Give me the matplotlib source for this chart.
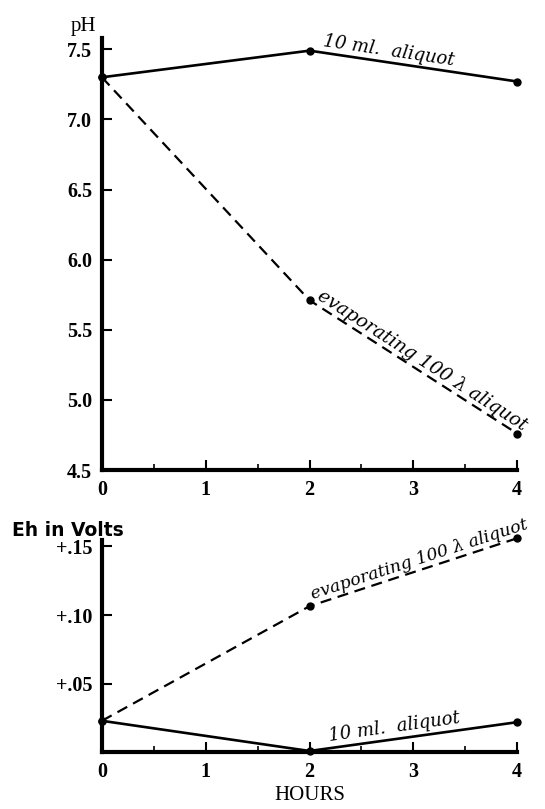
import numpy as np
import matplotlib
matplotlib.use('Agg')
import matplotlib.pyplot as plt

# Daten
hours = [0, 2, 4]
ph_10ml = [7.30, 7.49, 7.27]
ph_evap = [7.30, 5.71, 4.76]
eh_10ml = [0.023, 0.001, 0.022]
eh_evap = [0.023, 0.1065, 0.156]

ph_ticks = [4.5, 5.0, 5.5, 6.0, 6.5, 7.0, 7.5]
ph_labels = ['4.5', '5.0', '5.5', '6.0', '6.5', '7.0', '7.5']
eh_ticks = [0.05, 0.10, 0.15]
eh_labels = ['+.05', '+.10', '+.15']
hour_ticks = [0, 1, 2, 3, 4]

label_10ml = '10 ml.  aliquot'
label_evap = 'evaporating 100 \u03bb aliquot'

serif = ['Liberation Serif', 'DejaVu Serif']
plt.rcParams['font.family'] = serif

fig = plt.figure(figsize=(5.45, 8.09), dpi=100)
ax1 = fig.add_axes([0.187, 0.419, 0.762, 0.534])
ax2 = fig.add_axes([0.187, 0.070, 0.762, 0.263])


def style_axis(ax):
    for side in ['top', 'right']:
        ax.spines[side].set_visible(False)
    for side in ['left', 'bottom']:
        ax.spines[side].set_linewidth(3)
    ax.set_xlim(0, 4)
    ax.set_xticks(hour_ticks)
    ax.set_xticks([0.5, 1.5, 2.5, 3.5], minor=True)
    ax.tick_params(axis='both', which='major', direction='in', length=7, width=1.5,
                   labelsize=14.5, pad=7)
    ax.tick_params(axis='x', which='minor', direction='in', length=4, width=1.2)
    ax.tick_params(axis='y', which='minor', left=False)
    for lab in ax.get_xticklabels() + ax.get_yticklabels():
        lab.set_fontweight('bold')


def line_label(ax, xs, ys, i, frac, text, size, dy=2):
    # Text entlang des Segments i -> i+1
    x0, x1 = xs[i], xs[i + 1]
    y0, y1 = ys[i], ys[i + 1]
    x = x0 + frac * (x1 - x0)
    y = y0 + frac * (y1 - y0)
    p0 = ax.transData.transform((x0, y0))
    p1 = ax.transData.transform((x1, y1))
    ang = np.degrees(np.arctan2(p1[1] - p0[1], p1[0] - p0[0]))
    ax.annotate(text, (x, y), xytext=(0, dy), textcoords='offset points',
                rotation=ang, rotation_mode='anchor', ha='left', va='bottom',
                fontsize=size, style='italic', family=['DejaVu Serif'],
                annotation_clip=False)


# Oben: pH
ax1.plot(hours, ph_10ml, color='black', lw=1.9, marker='o', ms=5, clip_on=False)
ax1.plot(hours, ph_evap, color='black', lw=1.6, ls=(0, (5, 3)), marker='o', ms=5,
         clip_on=False)
ax1.set_ylim(4.5, 7.58)
ax1.set_yticks(ph_ticks)
ax1.set_yticklabels(ph_labels)
style_axis(ax1)
line_label(ax1, hours, ph_10ml, 1, 0.06, label_10ml, 13)
line_label(ax1, hours, ph_evap, 1, 0.02, label_evap, 13.5, dy=1)

# Unten: Eh
ax2.plot(hours, eh_10ml, color='black', lw=1.9, marker='o', ms=5, clip_on=False)
ax2.plot(hours, eh_evap, color='black', lw=1.6, ls=(0, (5, 3)), marker='o', ms=5,
         clip_on=False)
ax2.set_ylim(0, 0.155)
ax2.set_yticks(eh_ticks)
ax2.set_yticklabels(eh_labels)
style_axis(ax2)
line_label(ax2, hours, eh_10ml, 1, 0.1, label_10ml, 13)
line_label(ax2, hours, eh_evap, 1, 0.02, label_evap, 12.5, dy=1)
ax2.set_xlabel('HOURS', fontsize=15, labelpad=3)

fig.text(83 / 545, 1 - 27 / 809, 'pH', fontsize=15, ha='center', va='center')
fig.text(12 / 545, 1 - 530 / 809, 'Eh in Volts', fontsize=13.5, fontweight='bold',
         ha='left', va='center', family=['DejaVu Sans'])

fig.savefig('out.png', dpi=100)
